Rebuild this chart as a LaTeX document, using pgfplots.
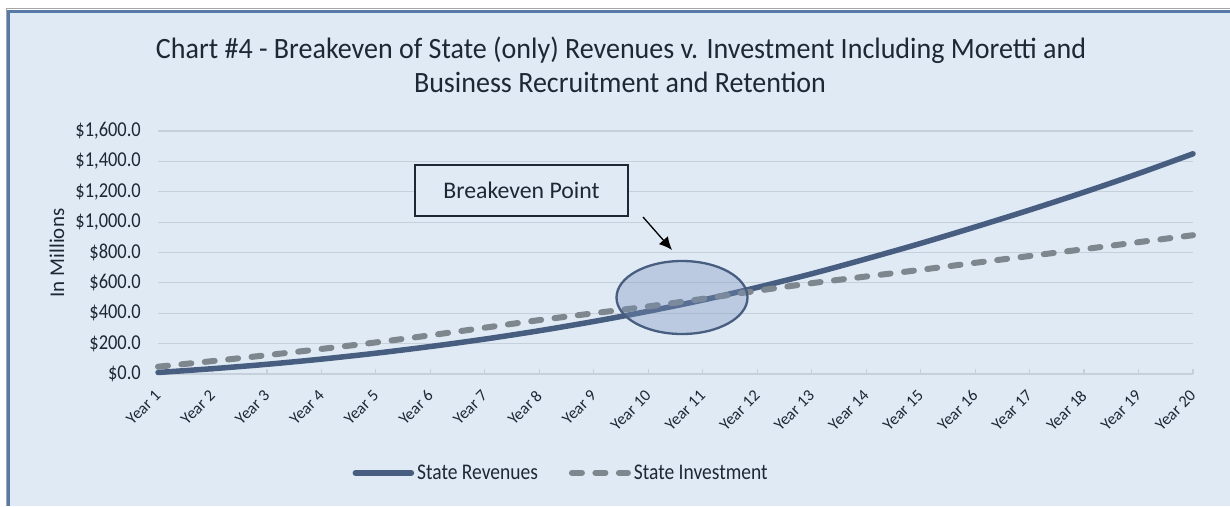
\documentclass[border=0pt]{standalone}
\usepackage{fontspec}
\setmainfont{Carlito}
\newfontfamily\cfont{Carlito}[FakeStretch=0.87]
\newfontfamily\tfont{Carlito}[FakeStretch=0.95]
\usepackage{pgfplots}
\pgfplotsset{compat=1.18}
\usetikzlibrary{arrows.meta}
\definecolor{bgc}{RGB}{223,234,245}
\definecolor{gridc}{RGB}{197,208,219}
\definecolor{revc}{RGB}{72,94,128}
\definecolor{invc}{RGB}{126,134,142}
\definecolor{framec}{RGB}{88,122,166}
\definecolor{txtc}{RGB}{30,40,52}
\definecolor{ellc}{RGB}{120,145,185}

\pgfplotstableread{
x rev inv
0 10 48
1 35 85
2 64 124
3 98 165
4 137 208
5 181 255
6 230 305
7 285 355
8 346 400
9 413 445
10 487 495
11 570 548
12 660 598
13 758 642
14 860 686
15 968 732
16 1080 777
17 1197 822
18 1320 868
19 1450 914
}\data

\begin{document}
\begin{tikzpicture}
\useasboundingbox (0pt,0pt) rectangle (1230pt,-506pt);
\fill[white] (0pt,0pt) rectangle (1230pt,-506pt);
\fill[bgc] (8pt,-10pt) rectangle (1230pt,-506pt);
\draw[gray!70, line width=1pt] (6.5pt,-506pt) -- (6.5pt,-8.5pt) -- (1230pt,-8.5pt);
\draw[framec, line width=3pt] (8.5pt,-506pt) -- (8.5pt,-11pt) -- (1230pt,-11pt);

\node[anchor=base, text=txtc, font=\tfont\fontsize{29.5}{34}\selectfont] at (621pt,-58pt) {Chart \#4 - Breakeven of State (only) Revenues v. Investment Including Moretti and};
\node[anchor=base, text=txtc, font=\tfont\fontsize{29.5}{34}\selectfont] at (620pt,-92pt) {Business Recruitment and Retention};
\node[rotate=90, text=txtc, font=\fontsize{21}{24}\selectfont] at (57pt,-253pt) {In Millions};

\begin{axis}[
  at={(158pt,-374pt)}, anchor=south west,
  scale only axis, width=1035pt, height=243pt,
  xmin=0, xmax=19, ymin=0, ymax=1600,
  axis x line*=bottom, axis y line*=left,
  y axis line style={draw=none},
  x axis line style={draw=gridc, line width=1.2pt},
  ymajorgrids, grid style={draw=gridc, line width=1.2pt},
  ytick={0,200,...,1600},
  yticklabels={\$0.0,\$200.0,\$400.0,\$600.0,\$800.0,\$1{,}000.0,\$1{,}200.0,\$1{,}400.0,\$1{,}600.0},
  yticklabel style={anchor=east, inner sep=0pt, text=txtc, font=\cfont\fontsize{21.2}{24}\selectfont},
  yticklabel shift=17pt,
  ytick style={draw=none},
  xtick={0,...,19},
  xticklabels={Year 1,Year 2,Year 3,Year 4,Year 5,Year 6,Year 7,Year 8,Year 9,Year 10,Year 11,Year 12,Year 13,Year 14,Year 15,Year 16,Year 17,Year 18,Year 19,Year 20},
  xticklabel style={anchor=east, inner sep=0pt, rotate=45, text=txtc, font=\fontsize{16.5}{19}\selectfont},
  xticklabel shift=19pt,
  tick align=inside,
  xtick style={draw=gridc, line width=1.2pt},
  major tick length=5pt,
  legend style={at={(axis description cs:0.39,-0.407)}, anchor=center, draw=none, fill=none,
    font=\cfont\fontsize{22.4}{25}\selectfont, text=txtc, column sep=0pt,
    nodes={inner sep=3pt}},
  legend columns=2,
  /tikz/every even column/.append style={column sep=28pt},
  legend image code/.code={\draw[#1] (0pt,0pt) -- (56pt,0pt);},
  clip=false,
]
\addplot[revc, line width=5.5pt, smooth, line cap=round] table[x=x, y=rev] {\data};
\addlegendentry{State Revenues}
\addplot[invc, line width=6pt, smooth, line cap=round, dash pattern=on 10pt off 13.5pt] table[x=x, y=inv] {\data};
\addlegendentry{State Investment}
\end{axis}

\draw[revc, line width=2.3pt, fill=ellc, fill opacity=0.35] (682pt,-297.5pt) ellipse [x radius=65.5pt, y radius=36.5pt];
\draw[txtc, line width=1.2pt, fill=bgc] (415pt,-165pt) rectangle (628pt,-216pt);
\node[text=txtc, font=\fontsize{23.8}{28}\selectfont] at (521.5pt,-190.5pt) {Breakeven Point};
\draw[black, line width=1.3pt, -{Latex[length=13pt,width=12pt]}] (643pt,-217pt) -- (672pt,-250pt);
\end{tikzpicture}
\end{document}
